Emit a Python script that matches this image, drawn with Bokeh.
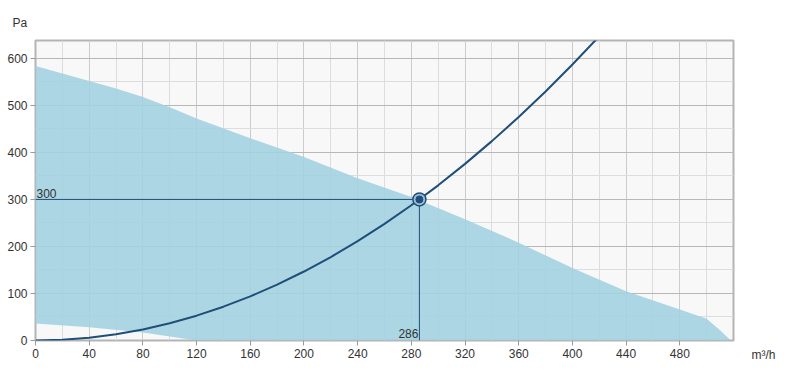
from bokeh.plotting import figure
from bokeh.models import Range1d, FixedTicker, Label, Title
from bokeh.embed import file_html
from bokeh.resources import INLINE

# Fan working area (upper and lower limit curves), m3/h vs Pa
upper_q = [0, 20, 40, 60, 80, 100, 120, 160, 200, 240, 280, 320, 360, 400, 440, 480, 500, 510, 518]
upper_p = [584, 568, 552, 536, 518, 496, 472, 430, 390, 345, 305, 258, 208, 154, 105, 66, 46, 22, 0]
lower_q = [0, 40, 80, 120]
lower_p = [36, 28, 17, 0]

# System curve
sys_q = [0, 20, 40, 60, 80, 100, 120, 140, 160, 180, 200, 220, 240, 260, 280, 300, 320, 340, 360, 380, 400, 420]
sys_p = [0, 1.5, 5.9, 13.2, 23.5, 36.7, 52.8, 71.9, 93.9, 118.8, 146.7, 177.5, 211.3, 248, 287.6, 330, 375.6, 424, 475.4, 529.7, 586.9, 647]

# Operating point
op_q = 286
op_p = 300

x_ticks = [0, 40, 80, 120, 160, 200, 240, 280, 320, 360, 400, 440, 480]
x_minor = [20, 60, 100, 140, 180, 220, 260, 300, 340, 380, 420, 460, 500]
y_ticks = [0, 100, 200, 300, 400, 500, 600]
y_minor = [50, 150, 250, 350, 450, 550]

DARK = "#1f4e79"
FILL = "#a4d2e1"
FONT = "Liberation Sans"

p = figure(width=787, height=385, output_backend="svg", toolbar_location=None,
           x_range=Range1d(0, 520), y_range=Range1d(0, 638),
           min_border_left=35, min_border_right=54, min_border_top=40, min_border_bottom=45)

p.background_fill_color = "#f8f8f8"
p.border_fill_color = "white"
p.outline_line_color = "#b4b4b4"
p.outline_line_width = 2

p.xaxis.ticker = FixedTicker(ticks=x_ticks, minor_ticks=x_minor)
p.yaxis.ticker = FixedTicker(ticks=y_ticks, minor_ticks=y_minor)

for ax in (p.xaxis, p.yaxis):
    ax.axis_line_color = None
    ax.major_tick_line_color = "#999999"
    ax.major_tick_in = 0
    ax.major_tick_out = 5
    ax.minor_tick_line_color = None
    ax.major_label_text_font = FONT
    ax.major_label_text_font_size = "12px"
    ax.major_label_text_color = "#333333"
    ax.major_label_standoff = 3

p.xgrid.grid_line_color = "#cccccc"
p.ygrid.grid_line_color = "#b8b8b8"
p.xgrid.minor_grid_line_color = "#dddddd"
p.ygrid.minor_grid_line_color = "#dddddd"

# working area
poly_x = upper_q + lower_q[::-1]
poly_y = upper_p + lower_p[::-1]
p.patch(poly_x, poly_y, fill_color=FILL, fill_alpha=0.9, line_color=None)

# system curve
p.line(sys_q, sys_p, line_color=DARK, line_width=2)

# crosshair
p.line([0, op_q], [op_p, op_p], line_color=DARK, line_width=1)
p.line([op_q, op_q], [0, op_p], line_color=DARK, line_width=1)

p.scatter([op_q], [op_p], size=13, fill_color="#9bbbd8", line_color=DARK, line_width=1.5)
p.scatter([op_q], [op_p], size=7, fill_color=DARK, line_color=DARK)

p.add_layout(Label(x=0, y=op_p, text=str(op_p), x_offset=1, y_offset=1,
                   text_font=FONT, text_font_size="12px", text_color="#333333",
                   text_align="left", text_baseline="bottom"))
p.add_layout(Label(x=op_q, y=0, text=str(op_q), x_offset=-1, y_offset=3,
                   text_font=FONT, text_font_size="12px", text_color="#333333",
                   text_align="right", text_baseline="bottom"))

# axis unit labels
p.add_layout(Title(text="Pa", align="left", offset=-23, text_font=FONT,
                   text_font_size="12px", text_font_style="normal",
                   text_color="#333333", standoff=21), "above")
p.add_layout(Title(text="m³/h", align="right", offset=-42, text_font=FONT,
                   text_font_size="12px", text_font_style="normal",
                   text_color="#333333", standoff=-26, vertical_align="top"), "below")

open("out.html", "w").write(file_html(p, INLINE))
